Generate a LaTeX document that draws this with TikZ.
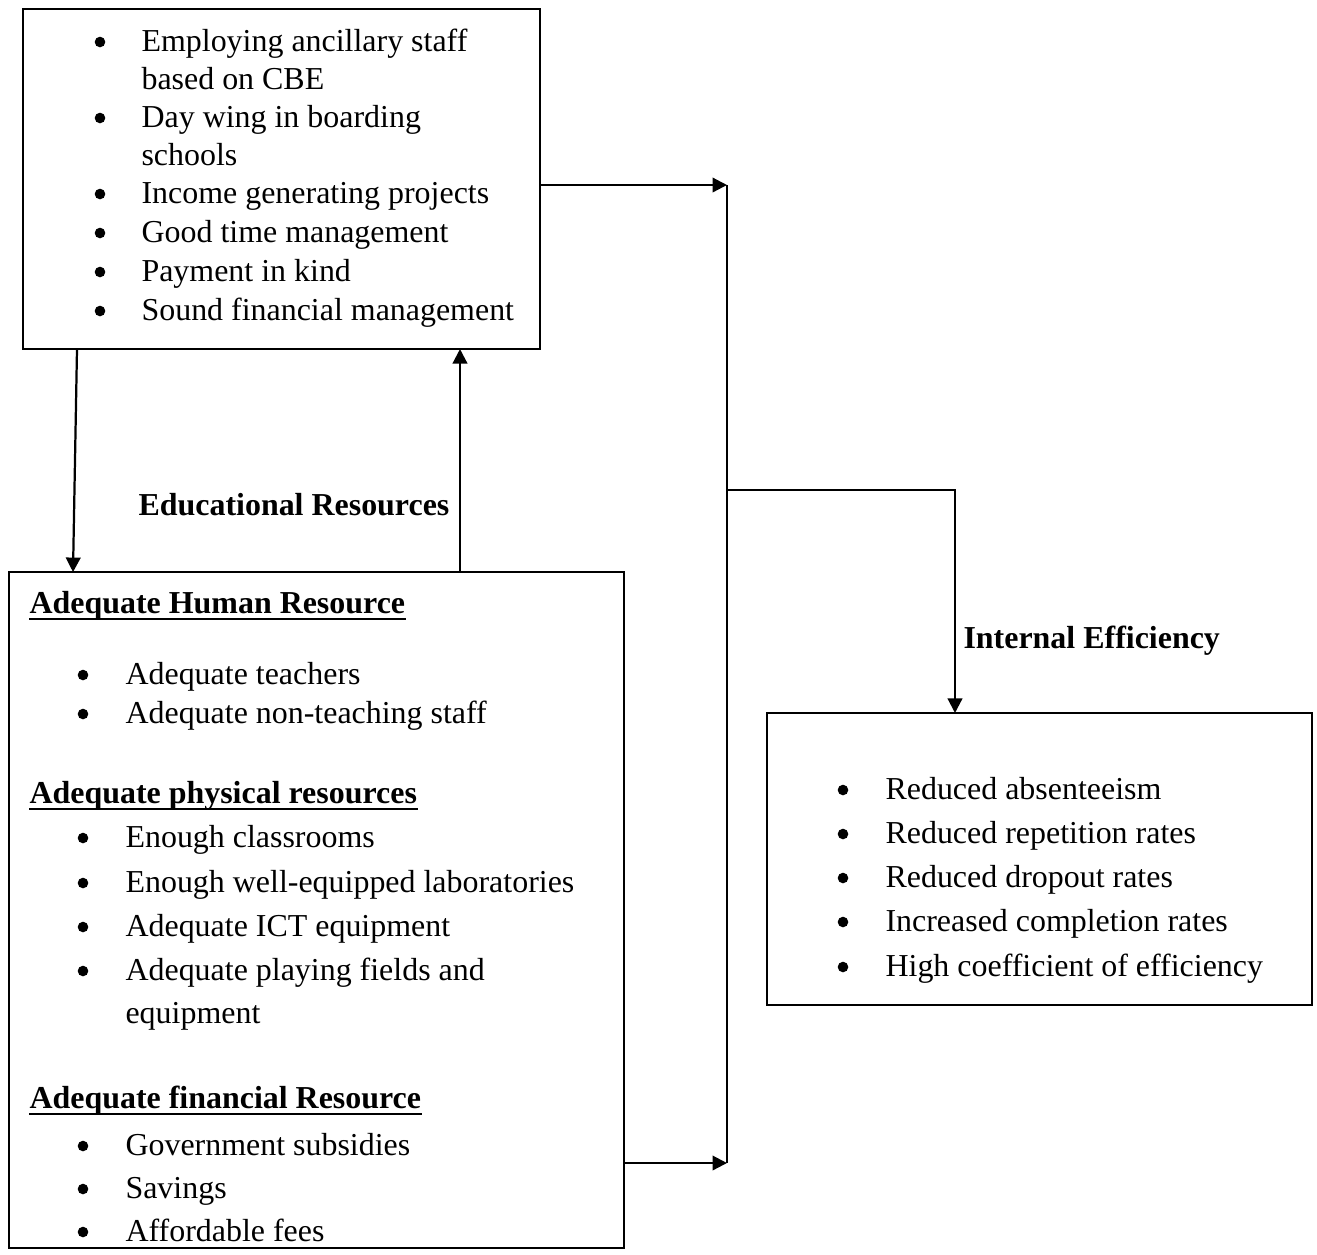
\documentclass[tikz,border=0pt]{standalone}
\usepackage{fontspec}
\setmainfont{Liberation Serif}
\usetikzlibrary{arrows.meta,positioning}

\begin{document}
\begin{tikzpicture}[
  x=0.3585pt,y=-0.3585pt,
  font=\fontsize{11.45}{13.8}\selectfont,
  frame/.style={draw,line width=0.75pt,inner sep=0pt,outer sep=0pt},
  link/.style={line width=0.8pt},
  arrow/.style={link,-{Triangle[length=5.2pt,width=5.2pt]}},
  item/.style={anchor=base west,inner sep=0pt},
  dot/.style={circle,fill,inner sep=0pt,minimum size=3.8pt},
  head/.style={anchor=base west,inner sep=0pt,font=\fontsize{11.45}{13.8}\selectfont\bfseries},
  uline/.style={line width=0.9pt}
]
\useasboundingbox (0,0) rectangle (1317,1254);

% boxes
\node[frame,minimum width=185.3pt,minimum height=121.9pt] (strat) at (281.5,179) {};
\node[frame,minimum width=220.5pt,minimum height=242.3pt] (res) at (316.5,910) {};
\node[frame,minimum width=195.4pt,minimum height=104.7pt] (eff) at (1039.5,859) {};

% strategies
\foreach \y [count=\i] in {51,127,203,242,281,320}
  \node[dot] (sb\i) at (100,\y-9) {};
\foreach \y/\t [count=\i] in {51/Employing ancillary staff,89/based on CBE,127/Day wing in boarding,165/schools,203/Income generating projects,242/Good time management,281/Payment in kind,320/Sound financial management}
  \node[item] (st\i) at (141,\y) {\t};

% resources
\node[head] (hum) at (29,613) {Adequate Human Resource};
\node[head] (phy) at (29,803) {Adequate physical resources};
\node[head] (fin) at (29,1108) {Adequate financial Resource};
\foreach \h in {hum,phy,fin}
  \draw[uline] ([yshift=-2.1pt]\h.base west) -- ([yshift=-2.1pt]\h.base east);
\foreach \y [count=\i] in {684,723,847,892,936,980,1155,1198,1241}
  \node[dot] (rb\i) at (83,\y-9) {};
\foreach \y/\t [count=\i] in {684/Adequate teachers,723/Adequate non-teaching staff,847/Enough classrooms,892/Enough well-equipped laboratories,936/Adequate ICT equipment,980/Adequate playing fields and,1023/equipment,1155/Government subsidies,1198/Savings,1241/Affordable fees}
  \node[item] (rt\i) at (125,\y) {\t};

% outcomes
\foreach \y/\t [count=\i] in {799/Reduced absenteeism,843/Reduced repetition rates,887/Reduced dropout rates,931/Increased completion rates,976/High coefficient of efficiency}
{
  \node[dot] (eb\i) at (843,\y-9) {};
  \node[item] (et\i) at (885,\y) {\t};
}

% labels
\node[head] (edu) at (138,515) {Educational Resources};
\node[head] (int) at (963,648) {Internal Efficiency};

% connectors
\coordinate (jtop) at (727,185);
\coordinate (jbot) at (727,1163);
\coordinate (jmid) at (727,490);
\coordinate (jout) at (955,490);
\draw[arrow] (strat.east |- jtop) -- (jtop);
\draw[arrow] (res.east |- jbot) -- (jbot);
\draw[link] (jtop) -- (jbot);
\draw[arrow] (jmid) -- (jout) -- (eff.north -| jout);
\draw[arrow] (77,0 |- strat.south) -- (73,0 |- res.north);
\draw[arrow] (460,0 |- res.north) -- (460,0 |- strat.south);
\end{tikzpicture}
\end{document}
